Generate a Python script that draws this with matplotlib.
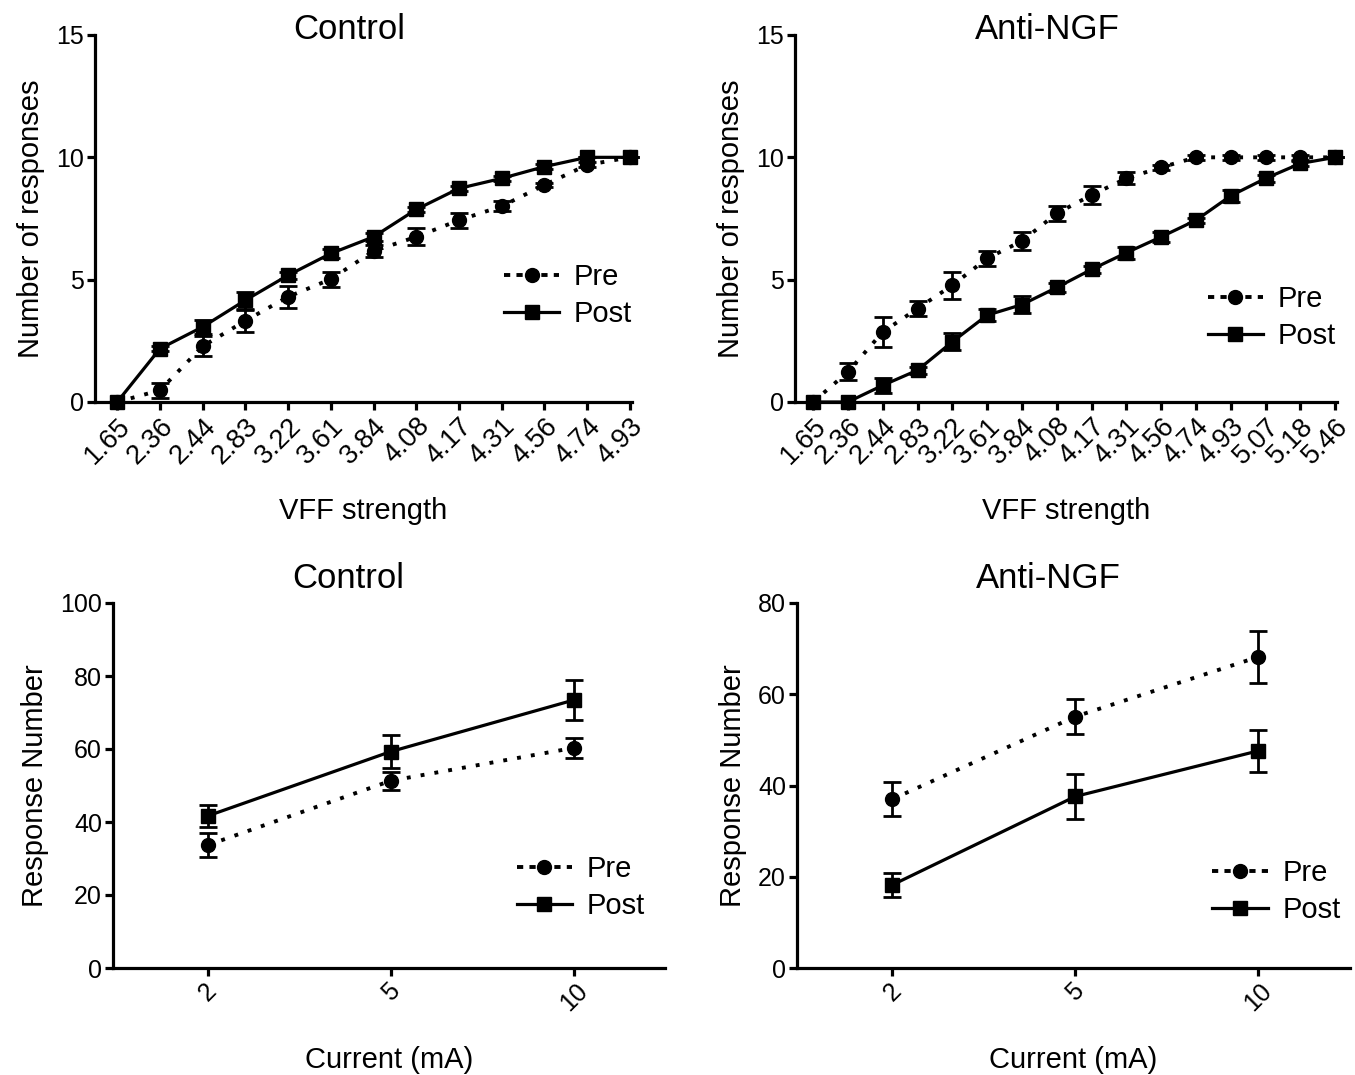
import matplotlib
matplotlib.use("Agg")
import matplotlib.pyplot as plt
from matplotlib.lines import Line2D

plt.rcParams['font.family'] = ['Liberation Sans', 'DejaVu Sans']

# VFF data (top row)
ctrl_vff = ["1.65", "2.36", "2.44", "2.83", "3.22", "3.61", "3.84", "4.08",
            "4.17", "4.31", "4.56", "4.74", "4.93"]
ctrl_pre = [0, 0.48, 2.28, 3.32, 4.30, 5.02, 6.17, 6.75, 7.43, 8.0, 8.87, 9.69, 10]
ctrl_pre_err = [0, 0.3, 0.4, 0.45, 0.45, 0.3, 0.25, 0.35, 0.3, 0.2, 0.1, 0.1, 0]
ctrl_post = [0, 2.18, 3.07, 4.16, 5.18, 6.07, 6.75, 7.87, 8.73, 9.14, 9.62, 10, 10]
ctrl_post_err = [0, 0.1, 0.3, 0.35, 0.15, 0.2, 0.15, 0.1, 0.1, 0.1, 0.1, 0, 0]

ngf_vff = ["1.65", "2.36", "2.44", "2.83", "3.22", "3.61", "3.84", "4.08",
           "4.17", "4.31", "4.56", "4.74", "4.93", "5.07", "5.18", "5.46"]
ngf_pre = [0, 1.23, 2.86, 3.82, 4.77, 5.87, 6.58, 7.71, 8.46, 9.14, 9.59, 10, 10, 10, 10, 10]
ngf_pre_err = [0, 0.35, 0.6, 0.3, 0.55, 0.3, 0.35, 0.3, 0.35, 0.25, 0.1, 0.1, 0.1, 0.1, 0.1, 0]
ngf_post = [0, 0, 0.68, 1.30, 2.46, 3.55, 3.98, 4.68, 5.42, 6.10, 6.75, 7.43, 8.43, 9.14, 9.75, 10]
ngf_post_err = [0, 0, 0.3, 0.15, 0.35, 0.25, 0.35, 0.2, 0.15, 0.25, 0.2, 0.1, 0.25, 0.15, 0.1, 0]

# Current data (bottom row)
currents = ["2", "5", "10"]
ctrl_pre_cur = [33.7, 51.3, 60.3]
ctrl_pre_cur_err = [3.2, 2.5, 2.7]
ctrl_post_cur = [41.7, 59.3, 73.4]
ctrl_post_cur_err = [3.0, 4.5, 5.5]
ngf_pre_cur = [37.0, 55.1, 68.2]
ngf_pre_cur_err = [3.7, 3.9, 5.7]
ngf_post_cur = [18.2, 37.6, 47.6]
ngf_post_cur_err = [2.6, 4.9, 4.6]

W, H = 1355, 1075
fig = plt.figure(figsize=(W / 100, H / 100), dpi=100)


def axes_px(x0, x1, ytop, ybot):
    return fig.add_axes([x0 / W, 1 - ybot / H, (x1 - x0) / W, (ybot - ytop) / H])


LW = 2.3
DOT = (0, (1.0, 2.6))
DOT_LW = 2.8


def draw_panel(ax, labels, pre, pre_err, post, post_err):
    x = list(range(len(labels)))
    ax.errorbar(x, pre, yerr=pre_err, color='black', lw=DOT_LW, ls=DOT, marker='o',
                ms=10, capsize=6.5, elinewidth=2, capthick=2, clip_on=False,
                zorder=3)
    ax.errorbar(x, post, yerr=post_err, color='black', lw=LW, ls='-', marker='s',
                ms=10, capsize=6.5, elinewidth=2, capthick=2, clip_on=False,
                zorder=4)
    for s in ['top', 'right']:
        ax.spines[s].set_visible(False)
    for s in ['left', 'bottom']:
        ax.spines[s].set_linewidth(2.3)
    ax.tick_params(width=2.3, length=6, labelsize=18, pad=2)
    ax.set_xticks(x)
    return x


def style_legend(ax, anchor):
    handles = [
        Line2D([], [], color='black', lw=DOT_LW, ls=(0, (1.6, 1.6)), marker='o', ms=10),
        Line2D([], [], color='black', lw=LW, ls='-', marker='s', ms=10),
    ]
    ax.legend(handles, ["Pre", "Post"], loc='center left', bbox_to_anchor=anchor,
              frameon=False, fontsize=21, handlelength=1.9, handletextpad=0.5,
              labelspacing=0.3, borderaxespad=0)


# top-left
ax1 = axes_px(95, 632, 35, 402)
x = draw_panel(ax1, ctrl_vff, ctrl_pre, ctrl_pre_err, ctrl_post, ctrl_post_err)
ax1.set_xticklabels(ctrl_vff, rotation=45, ha='right', rotation_mode='anchor',
                    fontsize=19.5)
ax1.set_xlim(-0.52, len(x) - 0.95)
ax1.set_ylim(0, 15)
ax1.set_yticks([0, 5, 10, 15])
ax1.set_ylabel("Number of responses", fontsize=21, labelpad=8)
ax1.set_xlabel("VFF strength", fontsize=21, labelpad=20)
ax1.text(0.473, 1.015, "Control", transform=ax1.transAxes, ha='center',
         va='center', fontsize=25)
style_legend(ax1, (0.74, 0.29))

# top-right
ax2 = axes_px(795, 1337, 35, 402)
x = draw_panel(ax2, ngf_vff, ngf_pre, ngf_pre_err, ngf_post, ngf_post_err)
ax2.set_xticklabels(ngf_vff, rotation=45, ha='right', rotation_mode='anchor',
                    fontsize=19.5)
ax2.set_xlim(-0.52, len(x) - 0.95)
ax2.set_ylim(0, 15)
ax2.set_yticks([0, 5, 10, 15])
ax2.set_ylabel("Number of responses", fontsize=21, labelpad=8)
ax2.set_xlabel("VFF strength", fontsize=21, labelpad=20)
ax2.text(0.465, 1.015, "Anti-NGF", transform=ax2.transAxes, ha='center',
         va='center', fontsize=25)
style_legend(ax2, (0.74, 0.23))

# bottom-left
ax3 = axes_px(113, 665, 603, 968)
x = draw_panel(ax3, currents, ctrl_pre_cur, ctrl_pre_cur_err,
               ctrl_post_cur, ctrl_post_cur_err)
ax3.set_xticklabels(currents, rotation=45, ha='center')
ax3.set_xlim(-0.52, 2.5)
ax3.set_ylim(0, 100)
ax3.set_yticks([0, 20, 40, 60, 80, 100])
ax3.set_ylabel("Response Number", fontsize=21, labelpad=8)
ax3.set_xlabel("Current (mA)", fontsize=21, labelpad=22)
ax3.text(0.426, 1.068, "Control", transform=ax3.transAxes, ha='center',
         va='center', fontsize=25)
style_legend(ax3, (0.71, 0.22))

# bottom-right
ax4 = axes_px(797, 1350, 603, 968)
x = draw_panel(ax4, currents, ngf_pre_cur, ngf_pre_cur_err,
               ngf_post_cur, ngf_post_cur_err)
ax4.set_xticklabels(currents, rotation=45, ha='center')
ax4.set_xlim(-0.52, 2.5)
ax4.set_ylim(0, 80)
ax4.set_yticks([0, 20, 40, 60, 80])
ax4.set_ylabel("Response Number", fontsize=21, labelpad=8)
ax4.set_xlabel("Current (mA)", fontsize=21, labelpad=22)
ax4.text(0.454, 1.068, "Anti-NGF", transform=ax4.transAxes, ha='center',
         va='center', fontsize=25)
style_legend(ax4, (0.73, 0.21))

fig.savefig("out.png", dpi=100)
